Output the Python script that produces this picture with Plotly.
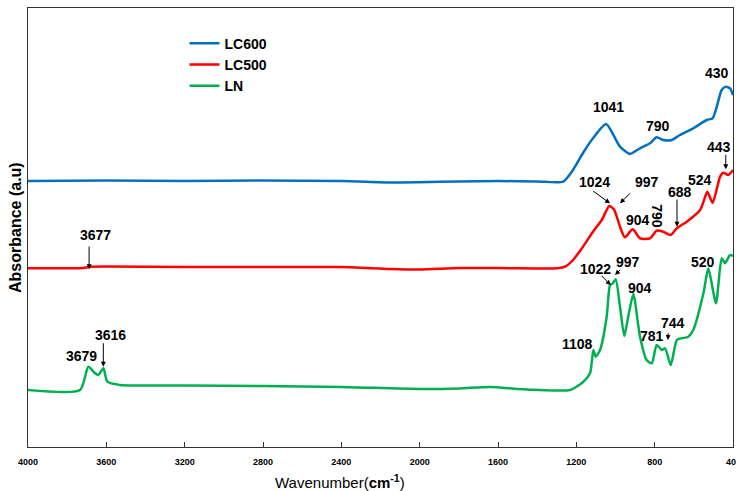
import plotly.graph_objects as go

# ---- data (wavenumber cm-1, absorbance a.u., stacked as in the figure) ----
wn_lc600 = [4000, 3600, 3200, 2800, 2400, 2150, 2000, 1800, 1600, 1400, 1268, 1217, 1166, 1115, 1048,
            977, 926, 875, 824, 790, 756, 713, 671, 603, 534, 504, 483, 458, 437, 415, 400]
ab_lc600 = [2.66, 2.665, 2.66, 2.665, 2.66, 2.645, 2.648, 2.655, 2.66, 2.655, 2.653, 2.77, 2.94, 3.087, 3.23,
            3.003, 2.93, 2.987, 3.037, 3.097, 3.07, 3.07, 3.12, 3.187, 3.27, 3.287, 3.403, 3.57, 3.603, 3.587, 3.52]

wn_lc500 = [4000, 3720, 3677, 3600, 3200, 2800, 2400, 2150, 2000, 1800, 1600, 1400, 1300, 1258, 1217, 1166,
            1115, 1070, 1032, 1008, 977, 952, 912, 875, 824, 790, 756, 718, 687, 636, 568, 542, 531, 504,
            466, 449, 424, 400]
ab_lc500 = [1.787, 1.79, 1.803, 1.805, 1.80, 1.80, 1.80, 1.78, 1.775, 1.79, 1.79, 1.785, 1.787, 1.803, 1.87, 2.003,
            2.153, 2.27, 2.41, 2.377, 2.203, 2.097, 2.177, 2.087, 2.087, 2.163, 2.153, 2.12, 2.187, 2.253, 2.37, 2.503,
            2.553, 2.443, 2.703, 2.743, 2.72, 2.77]

wn_ln = [4000, 3734, 3692, 3658, 3641, 3615, 3595, 3530, 3200, 2800, 2400, 2000, 1800, 1640, 1500, 1386, 1232,
         1164, 1130, 1113, 1101, 1079, 1045, 1028, 1014, 999, 977, 955, 935, 909, 875, 841, 815, 790, 764, 747,
         718, 687, 662, 628, 603, 551, 526, 487, 458, 441, 415, 400]
ab_ln = [0.57, 0.57, 0.803, 0.737, 0.72, 0.787, 0.653, 0.62, 0.615, 0.61, 0.60, 0.58, 0.585, 0.60, 0.58, 0.57, 0.57,
         0.653, 0.737, 0.97, 0.903, 0.97, 1.303, 1.62, 1.637, 1.677, 1.403, 1.11, 1.303, 1.53, 1.103, 0.87, 0.837,
         1.02, 0.97, 0.987, 0.82, 1.07, 1.087, 1.103, 1.17, 1.537, 1.787, 1.437, 1.887, 1.837, 1.92, 1.91]

series_names = ["LC600", "LC500", "LN"]
series_colors = ["#0070C0", "#FF0000", "#00B050"]

x_ticks = [4000, 3600, 3200, 2800, 2400, 2000, 1600, 1200, 800, 400]

# peak labels: (text, wavenumber, absorbance, angle)
peak_labels = [
    ("1041", 1038, 3.40, 0), ("790", 783, 3.21, 0), ("430", 482, 3.74, 0),
    ("1024", 1105, 2.65, 0), ("997", 838, 2.653, 0), ("904", 883, 2.27, 0),
    ("790", 786, 2.303, 90), ("688", 671, 2.547, 0), ("524", 568, 2.67, 0),
    ("443", 471, 2.997, 0), ("3677", 3653, 2.12, 0),
    ("1022", 1101, 1.777, 0), ("997", 935, 1.853, 0), ("904", 875, 1.587, 0),
    ("1108", 1195, 1.027, 0), ("781", 815, 1.11, 0), ("744", 705, 1.243, 0),
    ("520", 552, 1.853, 0), ("3679", 3726, 0.91, 0), ("3616", 3578, 1.12, 0),
]
# arrows: (tail wn, tail ab, tip wn, tip ab)
arrows = [
    (1121.5, 2.57, 1028, 2.437), (917, 2.553, 977, 2.437), (686, 2.49, 686, 2.203),
    (437, 2.937, 437, 2.777), (3688, 2.02, 3688, 1.777),
    (1079, 1.727, 1024.5, 1.62), (968, 1.787, 1002.5, 1.72), (730, 1.153, 733, 1.07),
    (3615.5, 1.053, 3615.5, 0.803),
]

FONT = "Arial, Liberation Sans, sans-serif"

fig = go.Figure()
for name, color, xs, ys in zip(series_names, series_colors,
                               [wn_lc600, wn_lc500, wn_ln], [ab_lc600, ab_lc500, ab_ln]):
    fig.add_trace(go.Scatter(x=xs, y=ys, mode="lines", name=name,
                             line=dict(color=color, width=2.5, shape="spline", smoothing=0.6)))

annotations = []
for txt, x, y, ang in peak_labels:
    annotations.append(dict(x=x, y=y, xref="x", yref="y", text="<b>%s</b>" % txt, showarrow=False,
                            textangle=ang, font=dict(family=FONT, size=14, color="black")))
for tx, ty, hx, hy in arrows:
    annotations.append(dict(x=hx, y=hy, ax=tx, ay=ty, xref="x", yref="y", axref="x", ayref="y",
                            text="", showarrow=True, arrowhead=2, arrowsize=1, arrowwidth=1,
                            arrowcolor="black", standoff=0, startstandoff=0))
# last tick label (partly cut by the right edge, as in the original)
annotations.append(dict(x=x_ticks[-1], y=0, xref="x", yref="paper", yanchor="middle", yshift=-15,
                        text="<b>%d</b>" % x_ticks[-1], showarrow=False,
                        font=dict(family=FONT, size=9, color="black")))
annotations.append(dict(x=0.442, y=0, xref="paper", yref="paper", yanchor="middle", yshift=-34,
                        text="Wavenumber(<b>cm<sup>-1</sup></b>)", showarrow=False,
                        font=dict(family=FONT, size=15, color="black")))
annotations.append(dict(x=0, y=0.5, xref="paper", yref="paper", xanchor="right", xshift=-2,
                        text="<b>Absorbance (a.u)</b>", textangle=-90, showarrow=False,
                        font=dict(family=FONT, size=16, color="black")))

fig.update_layout(
    width=736, height=491,
    margin=dict(l=28, r=3, t=8, b=44),
    paper_bgcolor="white", plot_bgcolor="white",
    font=dict(family=FONT, color="black"),
    annotations=annotations,
    legend=dict(x=0.222, y=0.955, xanchor="left", yanchor="top", bgcolor="rgba(0,0,0,0)",
                font=dict(family=FONT, size=14, color="black", weight="bold"),
                itemwidth=30, tracegroupgap=0),
    xaxis=dict(range=[4000, 400], tickvals=x_ticks[:-1], ticktext=[str(v) for v in x_ticks[:-1]],
               ticks="inside", ticklen=5, tickcolor="#333", showgrid=False, zeroline=False,
               showline=True, linecolor="#333", linewidth=1.3, mirror=True, ticklabelstandoff=6,
               tickfont=dict(family=FONT, size=9, color="black", weight="bold")),
    yaxis=dict(range=[0, 4.39], showticklabels=False, ticks="", showgrid=False, zeroline=False,
               showline=True, linecolor="#333", linewidth=1.3, mirror=True),
)

fig.write_html("out.html", config={"displayModeBar": False},
               post_script="document.body.style.margin='0';document.body.style.padding='0';")
